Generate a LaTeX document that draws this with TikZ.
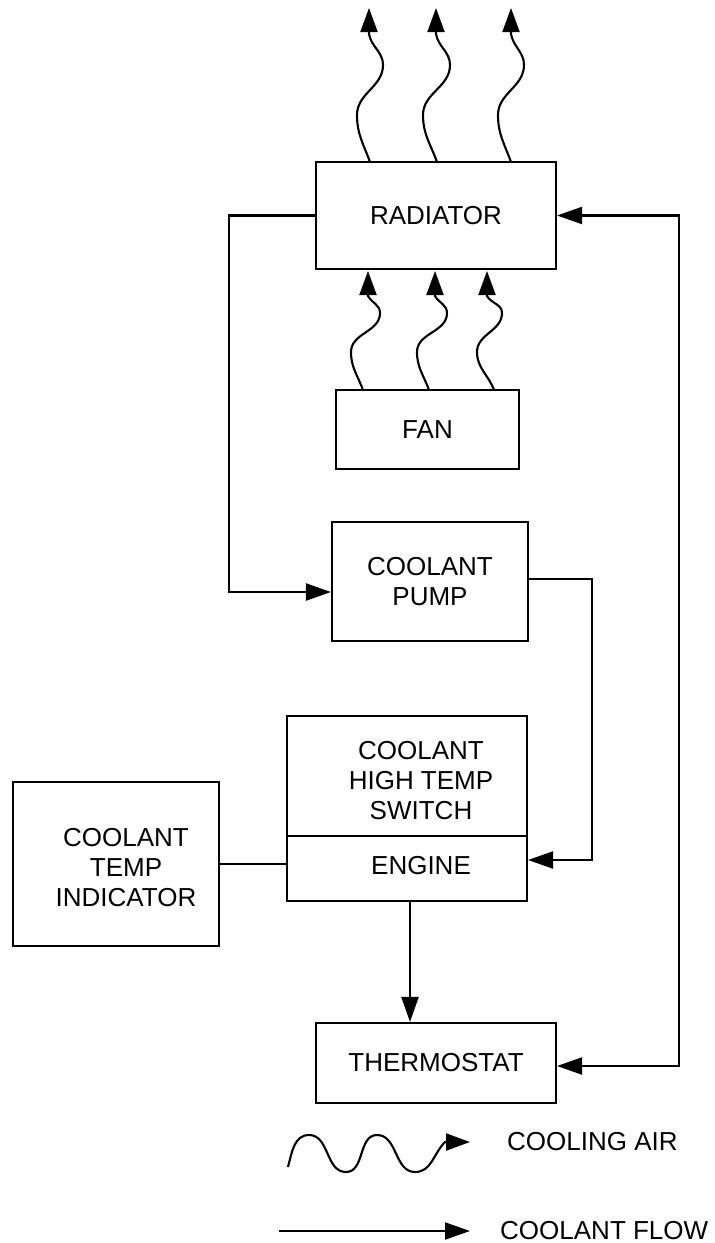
\documentclass[tikz,border=0pt]{standalone}
\usepackage{fontspec}
\setmainfont{Liberation Sans}
\usetikzlibrary{arrows.meta,calc}
\newcommand\diagfont{\fontsize{26}{30}\selectfont}
\begin{document}
\begin{tikzpicture}[x=1pt,y=1pt,
  box/.style={draw, line width=2.1pt, inner sep=0pt, font=\diagfont, align=center},
  lab/.style={font=\diagfont, align=center, inner sep=0pt},
  flow/.style={line width=2.1pt, -{Triangle[length=25pt,width=17pt]}},
  bothflow/.style={line width=2.1pt, {Triangle[length=25pt,width=17pt]}-{Triangle[length=25pt,width=17pt]}},
  air/.style={line width=2.1pt, -{Triangle[length=24pt,width=17pt]}},
  plain/.style={line width=2.1pt}
]
\useasboundingbox (0,0) rectangle (715,-1243);

% boxes
\node[box, minimum width=240pt, minimum height=107pt] (rad) at (436,-215.5) {RADIATOR};
\node[box, minimum width=183pt, minimum height=79pt] (fan) at (427.5,-429.5) {FAN};
\node[box, minimum width=196pt, minimum height=119pt] (pump) at (430,-581.5) {COOLANT\\PUMP};
\node[box, minimum width=240pt, minimum height=120pt] (sw) at (407,-776) {};
\node[lab] (swt) at (421,-781) {COOLANT\\HIGH TEMP\\SWITCH};
\node[box, minimum width=240pt, minimum height=65pt] (eng) at (407,-868.5) {};
\node[lab] (engt) at (421,-866) {ENGINE};
\node[box, minimum width=206pt, minimum height=164pt] (ind) at (116,-864) {};
\node[lab] (indt) at (126,-868) {COOLANT\\TEMP\\INDICATOR};
\node[box, minimum width=240pt, minimum height=80pt] (th) at (436,-1063) {THERMOSTAT};

% coolant flow connectors
\coordinate (pumpin) at ($(pump.west)+(0,-10.5)$);
\draw[flow] (rad.west) -- ++(-86,0) |- (pumpin);
\coordinate (pumpout) at ($(pump.east)+(0,2.5)$);
\coordinate (engin) at ($(eng.east)+(0,8.5)$);
\draw[flow] (pumpout) -- ++(63,0) |- (engin);
\coordinate (engout) at ($(eng.south)+(3,0)$);
\draw[flow] (engout) -- (engout |- th.north);
\coordinate (thin) at ($(th.east)+(0,-3)$);
\draw[bothflow] (thin) -- ++(122,0) |- (rad.east);
\draw[plain] (ind.east) -- (ind.east -| eng.west);

% cooling air out of radiator
\coordinate (t1) at (369,-8);
\coordinate (t2) at (436,-8);
\coordinate (t3) at (511,-8);
\draw[air] (370,-162) to[out=110,in=-90] (357,-115) to[out=90,in=-90] (383,-65) to[out=90,in=-80] (369,-34) -- (t1);
\draw[air] (437,-162) to[out=110,in=-90] (423,-115) to[out=90,in=-90] (450,-65) to[out=90,in=-80] (436,-34) -- (t2);
\draw[air] (511,-162) to[out=110,in=-90] (498,-115) to[out=90,in=-90] (524,-65) to[out=90,in=-80] (511,-34) -- (t3);

% cooling air from fan
\coordinate (f1) at (368,-271);
\coordinate (f2) at (435,-271);
\coordinate (f3) at (487,-271);
\draw[air] (363,-390) to[out=110,in=-90] (351,-352) to[out=90,in=-90] (380,-313) to[out=90,in=-60] (368,-296) -- (f1);
\draw[air] (429,-390) to[out=110,in=-90] (417,-352) to[out=90,in=-90] (447,-313) to[out=90,in=-60] (435,-296) -- (f2);
\draw[air] (494,-390) to[out=110,in=-90] (477,-352) to[out=90,in=-90] (502,-313) to[out=90,in=-60] (487,-296) -- (f3);

% legend
\coordinate (la0) at (288,-1167);
\coordinate (la1) at (470,-1142);
\draw[air] (la0) to[out=75,in=180] (309,-1135) to[out=0,in=180] (346,-1172) to[out=0,in=180] (377,-1135) to[out=0,in=180] (415,-1172) to[out=0,in=225] (445,-1142) -- (la1);
\node[lab, anchor=west] (lair) at (507,-1142) {COOLING AIR};
\coordinate (lf0) at (279,-1231);
\coordinate (lf1) at (470,-1231);
\draw[flow] (lf0) -- (lf1);
\node[lab, anchor=west] (lflow) at (500,-1231) {COOLANT FLOW};
\end{tikzpicture}
\end{document}
